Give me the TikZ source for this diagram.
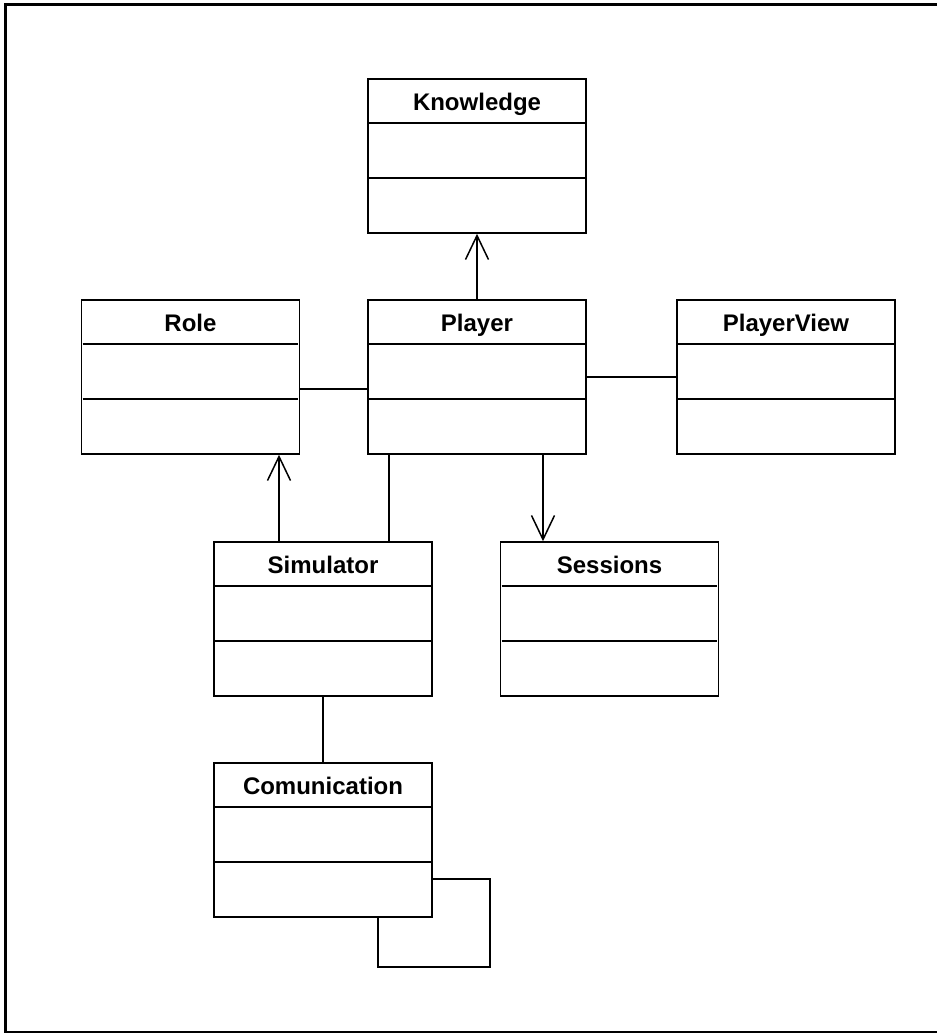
\documentclass[tikz,border=0pt]{standalone}
\usepackage{fontspec}
\setmainfont{Liberation Sans}
\usetikzlibrary{arrows.meta,calc}

\tikzset{
  umlclass/.style={draw, line width=1.6pt, minimum width=218pt, minimum height=154pt,
    inner sep=0pt, fill=white},
  classname/.style={anchor=base, inner sep=0pt,
    font=\fontsize{24}{28}\selectfont\bfseries},
  sepline/.style={line width=1.6pt},
  assoc/.style={line width=1.5pt},
  navig/.style={line width=1.5pt, -{Straight Barb[length=24pt,width=23pt,line width=1.5pt]}},
  frame/.style={line width=3pt},
}

% class box with title and two compartment separators
\newcommand{\umlbox}[3]{%
  \node[umlclass] (#1) at (#2) {};
  \node[classname] (#1-title) at ([yshift=-32pt]#1.north) {#3};
  \draw[sepline] ([xshift=2pt,yshift=-44.5pt]#1.north west) -- ([xshift=-2pt,yshift=-44.5pt]#1.north east);
  \draw[sepline] ([xshift=2pt,yshift=-99.5pt]#1.north west) -- ([xshift=-2pt,yshift=-99.5pt]#1.north east);
}

\begin{document}
\begin{tikzpicture}[x=1pt,y=-1pt]
  \useasboundingbox (0,0) rectangle (937,1034);

  % page frame (top, left, bottom)
  \draw[frame] (937,4) -- (5,4) -- (5,1032.5);
  \draw[line width=1.5pt] (4,1032) -- (937,1032);

  % classes
  \umlbox{Knowledge}{477,156}{Knowledge}
  \umlbox{Role}{190.5,377}{Role}
  \umlbox{Player}{477,377}{Player}
  \umlbox{PlayerView}{786,377}{PlayerView}
  \umlbox{Simulator}{323,619}{Simulator}
  \umlbox{Sessions}{609.5,619}{Sessions}
  \umlbox{Comunication}{323,840}{Comunication}

  % relations
  \draw[navig] (Player.north) -- (Knowledge.south);
  \draw[assoc] ([yshift=-12pt]Role.east) -- ([yshift=-12pt]Role.east -| Player.west);
  \draw[assoc] (Player.east) -- (PlayerView.west);
  \draw[navig] ([xshift=-44pt]Simulator.north) -- ([xshift=-44pt]Simulator.north |- Role.south);
  \draw[assoc] ([xshift=-88pt]Player.south) -- ([xshift=-88pt]Player.south |- Simulator.north);
  \draw[navig] ([xshift=66pt]Player.south) -- ([xshift=66pt]Player.south |- Sessions.north);
  \draw[assoc] (Simulator.south) -- (Comunication.north);

  % self association
  \draw[assoc] ([yshift=-39pt]Comunication.east) -| ++(57,88) -| ([xshift=55pt]Comunication.south);
\end{tikzpicture}
\end{document}
